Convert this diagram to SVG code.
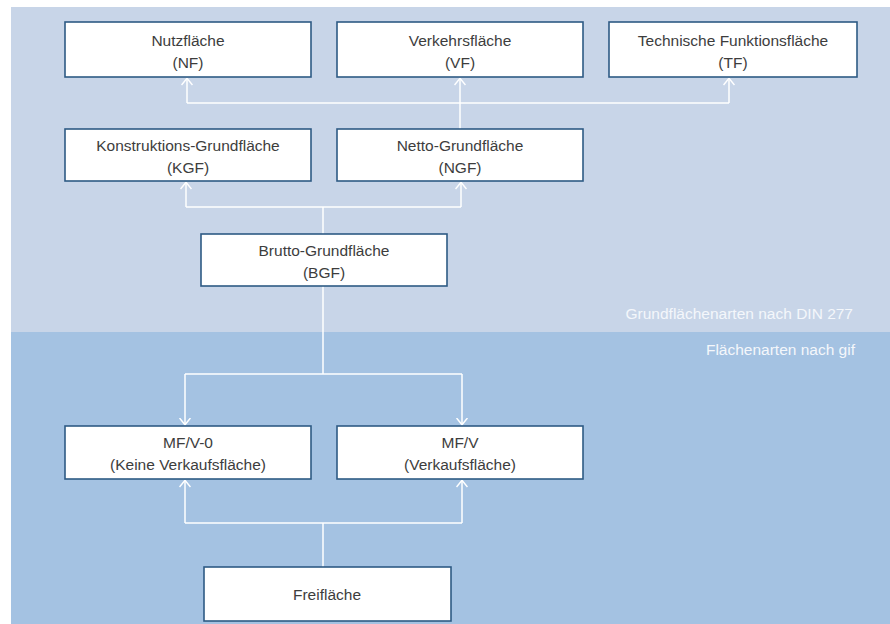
<svg xmlns="http://www.w3.org/2000/svg" width="890" height="624" viewBox="0 0 890 624">
<defs>
<style>
.box{fill:#ffffff;stroke:#2e5a84;stroke-width:1.6}
.t{font-family:"Liberation Sans",Arial,sans-serif;font-size:15.5px;fill:#3d3d3d;text-anchor:middle}
.lbl{font-family:"Liberation Sans",Arial,sans-serif;font-size:15.5px;fill:#f4f7fb;text-anchor:end}
.c{fill:none;stroke:#ffffff;stroke-width:1.5}
</style>
<marker id="ah" viewBox="0 0 8 12" refX="7.5" refY="6" markerWidth="8" markerHeight="12" markerUnits="userSpaceOnUse" orient="auto">
<path d="M0.5,0.5 L7.2,6 L0.5,11.5" fill="none" stroke="#ffffff" stroke-width="1.5"/>
</marker>
</defs>
<rect x="0" y="0" width="890" height="624" fill="#ffffff"/>
<rect x="11" y="7" width="879" height="325" fill="#c8d5e8"/>
<rect x="11" y="332" width="879" height="292" fill="#a4c2e2"/>
<text class="lbl" x="853" y="319">Grundflächenarten nach DIN 277</text>
<text class="lbl" x="855" y="355">Flächenarten nach gif</text>
<g id="connectors">
<path class="c" d="M187,103 H729"/>
<path class="c" d="M187,103 V78" marker-end="url(#ah)"/>
<path class="c" d="M729,103 V78" marker-end="url(#ah)"/>
<path class="c" d="M460,129 V78" marker-end="url(#ah)"/>
<path class="c" d="M186,207 H461"/>
<path class="c" d="M186,207 V182" marker-end="url(#ah)"/>
<path class="c" d="M461,207 V182" marker-end="url(#ah)"/>
<path class="c" d="M323,234 V207"/>
<path class="c" d="M323,286 V374"/>
<path class="c" d="M185,374 H462"/>
<path class="c" d="M185,374 V425" marker-end="url(#ah)"/>
<path class="c" d="M462,374 V425" marker-end="url(#ah)"/>
<path class="c" d="M185,523 H462"/>
<path class="c" d="M185,523 V480" marker-end="url(#ah)"/>
<path class="c" d="M462,523 V480" marker-end="url(#ah)"/>
<path class="c" d="M323,567 V523"/>
</g>
<g id="nf"><rect class="box" x="65" y="22" width="246" height="55"/><text class="t" x="188" y="46">Nutzfläche</text><text class="t" x="188" y="68">(NF)</text></g>
<g id="vf"><rect class="box" x="337" y="22" width="246" height="55"/><text class="t" x="460" y="46">Verkehrsfläche</text><text class="t" x="460" y="68">(VF)</text></g>
<g id="tf"><rect class="box" x="609" y="22" width="248" height="55"/><text class="t" x="733" y="46">Technische Funktionsfläche</text><text class="t" x="733" y="68">(TF)</text></g>
<g id="kgf"><rect class="box" x="65" y="129" width="246" height="52"/><text class="t" x="188" y="151">Konstruktions-Grundfläche</text><text class="t" x="188" y="173">(KGF)</text></g>
<g id="ngf"><rect class="box" x="337" y="129" width="246" height="52"/><text class="t" x="460" y="151">Netto-Grundfläche</text><text class="t" x="460" y="173">(NGF)</text></g>
<g id="bgf"><rect class="box" x="201" y="234" width="246" height="52"/><text class="t" x="324" y="256">Brutto-Grundfläche</text><text class="t" x="324" y="278">(BGF)</text></g>
<g id="mfv0"><rect class="box" x="65" y="426" width="246" height="53"/><text class="t" x="188" y="448">MF/V-0</text><text class="t" x="188" y="470">(Keine Verkaufsfläche)</text></g>
<g id="mfv"><rect class="box" x="337" y="426" width="246" height="53"/><text class="t" x="460" y="448">MF/V</text><text class="t" x="460" y="470">(Verkaufsfläche)</text></g>
<g id="frei"><rect class="box" x="204" y="567" width="247" height="54"/><text class="t" x="327" y="600">Freifläche</text></g>
</svg>
